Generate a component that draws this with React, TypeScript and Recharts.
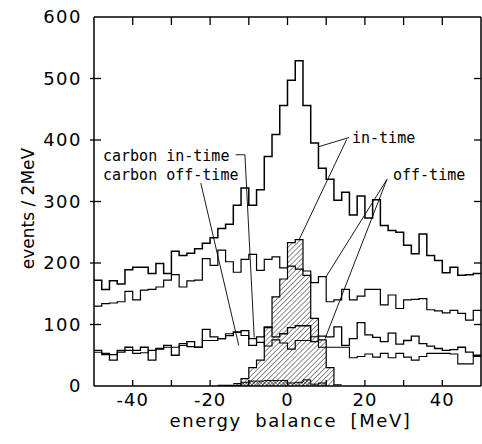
import React from 'react';
import { ComposedChart, Line, Area, XAxis, YAxis, ReferenceLine } from 'recharts';

// bin edges, 2 MeV wide
const binEdges = [
  -50, -48, -46, -44, -42, -40, -38, -36, -34, -32, -30, -28, -26, -24, -22, -20, -18,
  -16, -14, -12, -10, -8, -6, -4, -2, 0, 2, 4, 6, 8, 10, 12, 14, 16, 18, 20, 22, 24, 26,
  28, 30, 32, 34, 36, 38, 40, 42, 44, 46, 48, 50,
];

const inTimeTotal = [
  172, 157, 171, 166, 189, 193, 193, 183, 199, 183, 219, 212, 216, 223, 232, 241, 256,
  263, 294, 322, 294, 319, 373, 409, 456, 497, 529, 456, 395, 354, 336, 302, 315, 278,
  309, 273, 303, 261, 253, 250, 229, 215, 247, 212, 204, 184, 193, 180, 181, 183,
];

const inTimeSecond = [
  130, 134, 135, 137, 154, 140, 156, 157, 161, 172, 181, 161, 171, 172, 207, 196, 221,
  202, 185, 206, 214, 188, 206, 210, 192, 195, 190, 187, 168, 178, 137, 140, 157, 140,
  146, 157, 157, 132, 148, 126, 140, 141, 142, 124, 122, 119, 123, 118, 107, 123,
];

const offTimeUpper = [
  58, 53, 42, 55, 63, 58, 63, 42, 61, 66, 50, 66, 72, 63, 92, 80, 77, 82, 88, 90, 66,
  80, 96, 80, 85, 95, 98, 98, 72, 81, 80, 96, 66, 77, 103, 83, 79, 72, 86, 68, 74, 81,
  69, 65, 61, 58, 59, 63, 55, 50,
];

const offTimeLower = [
  55, 51, 51, 58, 58, 53, 54, 58, 60, 63, 63, 69, 64, 63, 74, 74, 77, 85, 87, 82, 77,
  71, 65, 75, 70, 60, 74, 74, 80, 63, 63, 63, 63, 46, 48, 52, 47, 53, 46, 53, 47, 42,
  48, 53, 53, 53, 52, 36, 36, 48,
];

const carbonInEdges = [-18, -16, -14, -12, -10, -8, -6, -4, -2, 0, 2, 4, 6, 8, 10, 12, 14];
const carbonInCounts = [1, 1, 1, 12, 30, 42, 95, 145, 174, 233, 238, 180, 110, 75, 30, 2];

const carbonOffEdges = [-14, -12, -10, -8, -6, -4, -2, 0, 2, 4, 6, 8, 10];
const carbonOffCounts = [4, 6, 8, 8, 9, 9, 9, 5, 6, 10, 3, 5];

const xTicks = [-40, -30, -20, -10, 0, 10, 20, 30, 40];
const yTicks = [0, 100, 200, 300, 400, 500, 600];

// leader lines of the annotations, in data units
const leaders: [number, number, number, number][] = [
  [15.9, 404, 8.0, 389],
  [15.3, 401, 3.0, 238],
  [25.7, 336, 9.9, 177],
  [25.7, 336, 9.7, 77],
  [-13.4, 376, -11.0, 376],
  [-11.0, 376, -8.6, 79],
  [-22.4, 330, -12.6, 66],
];

const toSteps = (edges: number[], counts: number[]) =>
  edges.map((e, i) => ({ e, n: counts[Math.min(i, counts.length - 1)] }));

const W = 482;
const H = 444;
const PLOT_LEFT = 94;
const PLOT_TOP = 17;
const PLOT_RIGHT = 481;
const PLOT_BOTTOM = 386;

const tickFont = { fontFamily: '"DejaVu Sans", sans-serif', fontSize: 18, fill: '#000' };
const noteFont = { fontFamily: '"DejaVu Sans Mono", monospace', fontSize: 15, fill: '#000' };

const XTick = (props: any) => {
  const { x, y, payload } = props;
  const v = payload.value;
  return (
    <g>
      <line x1={x} x2={x} y1={PLOT_BOTTOM} y2={PLOT_BOTTOM - 6} stroke="#000" strokeWidth={1.3} />
      <line x1={x} x2={x} y1={PLOT_TOP} y2={PLOT_TOP + 8} stroke="#000" strokeWidth={1.3} />
      {v % 20 === 0 && (
        <text x={x} y={y} dy="0.71em" textAnchor="middle" {...tickFont} letterSpacing={1}>
          {v}
        </text>
      )}
    </g>
  );
};

const YTick = (props: any) => {
  const { x, y, payload } = props;
  const v = payload.value;
  const inner = v !== 0 && v !== 600;
  return (
    <g>
      {inner && <line x1={PLOT_LEFT - 4} x2={PLOT_LEFT + 7} y1={y} y2={y} stroke="#000" strokeWidth={1.3} />}
      {inner && <line x1={PLOT_RIGHT - 7} x2={PLOT_RIGHT} y1={y} y2={y} stroke="#000" strokeWidth={1.3} />}
      <text x={x} y={y} dy="0.36em" textAnchor="end" {...tickFont} letterSpacing={1.5}>
        {v}
      </text>
    </g>
  );
};

export default function App() {
  return (
    <div style={{ position: 'absolute', left: 0, top: 0, width: W, height: H, background: '#fff' }}>
      <svg width={0} height={0} style={{ position: 'absolute' }}>
        <defs>
          <pattern id="hatch" width="3.6" height="3.6" patternUnits="userSpaceOnUse" patternTransform="rotate(45)">
            <line x1="0" y1="0" x2="0" y2="3.6" stroke="#000" strokeWidth="0.9" />
          </pattern>
          <pattern id="xhatch" width="2.6" height="2.6" patternUnits="userSpaceOnUse" patternTransform="rotate(45)">
            <line x1="0" y1="0" x2="0" y2="2.6" stroke="#000" strokeWidth="0.8" />
            <line x1="0" y1="0" x2="2.6" y2="0" stroke="#000" strokeWidth="0.8" />
          </pattern>
        </defs>
      </svg>
      <ComposedChart width={W} height={H} margin={{ top: PLOT_TOP, right: W - PLOT_RIGHT, bottom: 0, left: 0 }}>
        <XAxis
          dataKey="e"
          type="number"
          domain={[-50, 50]}
          ticks={xTicks}
          interval={0}
          allowDataOverflow
          height={H - PLOT_BOTTOM}
          tickSize={0}
          tickMargin={7}
          tickLine={false}
          tick={XTick}
          axisLine={{ stroke: '#000', strokeWidth: 1.5 }}
          label={{
            value: 'energy balance [MeV]',
            position: 'insideBottom',
            offset: 17,
            dx: 3,
            style: { ...tickFont, letterSpacing: 1.6, wordSpacing: 6 },
          }}
        />
        <YAxis
          type="number"
          domain={[0, 600]}
          ticks={yTicks}
          interval={0}
          allowDataOverflow
          width={PLOT_LEFT}
          tickSize={0}
          tickMargin={12}
          tickLine={false}
          tick={YTick}
          axisLine={{ stroke: '#000', strokeWidth: 1.5 }}
          label={{
            value: 'events / 2MeV',
            angle: -90,
            position: 'center',
            dx: -19,
            dy: 7,
            style: { ...tickFont, fontSize: 17 },
          }}
        />
        <ReferenceLine y={600} stroke="#000" strokeWidth={1.5} ifOverflow="visible" />
        <ReferenceLine x={50} stroke="#000" strokeWidth={1.5} ifOverflow="visible" />

        <Area
          data={toSteps(carbonInEdges, carbonInCounts)}
          dataKey="n"
          type="stepAfter"
          stroke="#000"
          strokeWidth={1.2}
          fill="url(#hatch)"
          fillOpacity={1}
          isAnimationActive={false}
          dot={false}
          activeDot={false}
        />
        <Area
          data={toSteps(carbonOffEdges, carbonOffCounts)}
          dataKey="n"
          type="stepAfter"
          stroke="#000"
          strokeWidth={1}
          fill="url(#xhatch)"
          fillOpacity={1}
          isAnimationActive={false}
          dot={false}
          activeDot={false}
        />

        <Line data={toSteps(binEdges, offTimeLower)} dataKey="n" type="stepAfter" stroke="#000" strokeWidth={1.1} dot={false} activeDot={false} isAnimationActive={false} />
        <Line data={toSteps(binEdges, offTimeUpper)} dataKey="n" type="stepAfter" stroke="#000" strokeWidth={1.3} dot={false} activeDot={false} isAnimationActive={false} />
        <Line data={toSteps(binEdges, inTimeSecond)} dataKey="n" type="stepAfter" stroke="#000" strokeWidth={1.2} dot={false} activeDot={false} isAnimationActive={false} />
        <Line data={toSteps(binEdges, inTimeTotal)} dataKey="n" type="stepAfter" stroke="#000" strokeWidth={1.5} dot={false} activeDot={false} isAnimationActive={false} />

        {leaders.map(([x1, y1, x2, y2], i) => (
          <ReferenceLine
            key={i}
            segment={[{ x: x1, y: y1 }, { x: x2, y: y2 }]}
            stroke="#000"
            strokeWidth={0.9}
          />
        ))}
      </ComposedChart>
      <svg width={W} height={H} style={{ position: 'absolute', left: 0, top: 0, pointerEvents: 'none' }}>
        <text x={103} y={161} {...noteFont}>carbon in-time</text>
        <text x={103} y={180} {...noteFont}>carbon off-time</text>
        <text x={352} y={143} {...noteFont}>in-time</text>
        <text x={393} y={180} {...noteFont}>off-time</text>
      </svg>
    </div>
  );
}
